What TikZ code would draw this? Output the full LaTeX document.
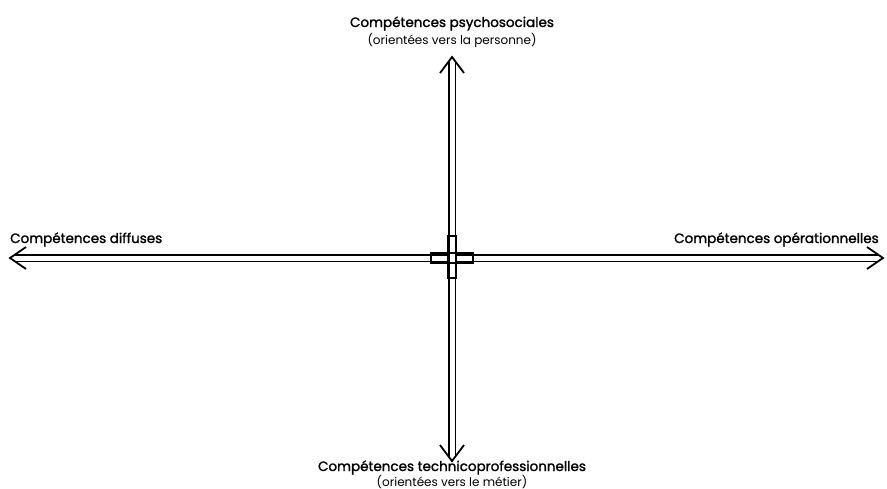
\documentclass[tikz,border=0pt]{standalone}
\usepackage{fontspec}
\setmainfont{Poppins}
\newfontfamily\titrefont{Poppins}[FakeBold=1.5]

\begin{document}
\begin{tikzpicture}[x=1pt,y=-1pt,
  axe/.style={double, double distance=5pt, line width=1.8pt, shorten <=4.5pt, shorten >=4.5pt},
  pointe/.style={line width=1.8pt, miter limit=10},
  titre/.style={inner sep=0pt, font=\titrefont\fontsize{13.5}{15}\selectfont},
  soustitre/.style={inner sep=0pt, font=\fontsize{12}{14}\selectfont}]
\useasboundingbox (0,0) rectangle (887,488);

% axes
\coordinate (haut) at (452,57);
\coordinate (bas) at (452,461);
\coordinate (gauche) at (10,258);
\coordinate (droite) at (883,258);
\coordinate (centre) at (452,258);

\draw[axe] (gauche) -- (droite);
\draw[axe] (haut) -- (bas);

% pointes
\draw[pointe] ([shift={(-12,16)}]haut) -- (haut) -- ([shift={(12,16)}]haut);
\draw[pointe] ([shift={(-12,-16)}]bas) -- (bas) -- ([shift={(12,-16)}]bas);
\draw[pointe] ([shift={(16,-11)}]gauche) -- (gauche) -- ([shift={(16,11)}]gauche);
\draw[pointe] ([shift={(-16,-11)}]droite) -- (droite) -- ([shift={(-16,11)}]droite);

% croix centrale
\draw[line width=1.8pt] ([shift={(-21,-5)}]centre) rectangle ([shift={(21,5)}]centre);
\draw[line width=1.8pt] ([shift={(-4.5,-22)}]centre) rectangle ([shift={(4.5,20)}]centre);

% textes
\node[titre, anchor=base] (psy) at (452,27) {Compétences psychosociales};
\node[soustitre, anchor=base] (psy2) at (452,44) {(orientées vers la personne)};

\node[titre, anchor=base] (tech) at (452,471) {Compétences technicoprofessionnelles};
\node[soustitre, anchor=base] (tech2) at (452,486) {(orientées vers le métier)};

\node[titre, anchor=base west] (diff) at (10,243) {Compétences diffuses};
\node[titre, anchor=base west] (oper) at (674,243) {Compétences opérationnelles};
\end{tikzpicture}
\end{document}
